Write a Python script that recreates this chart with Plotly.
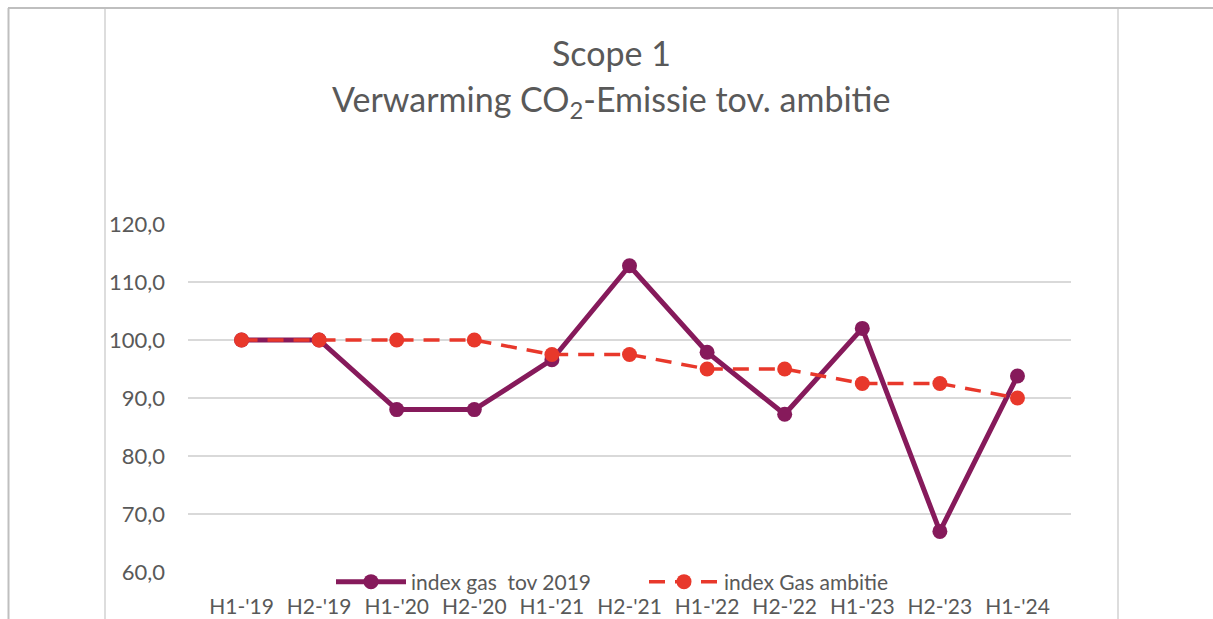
import plotly.graph_objects as go

categories = ["H1-'19", "H2-'19", "H1-'20", "H2-'20", "H1-'21", "H2-'21",
              "H1-'22", "H2-'22", "H1-'23", "H2-'23", "H1-'24"]
index_gas = [100.0, 100.0, 88.0, 88.0, 96.6, 112.8, 97.9, 87.2, 102.0, 67.0, 93.8]
index_ambitie = [100.0, 100.0, 100.0, 100.0, 97.5, 97.5, 95.0, 95.0, 92.5, 92.5, 90.0]

W, H = 1213, 619
L, R, T, B = 188, 1071, 224, 572
FONT = "Lato"
TXT = "#595959"

def px(x):
    return (x - L) / (R - L)

def py(y):
    return (B - y) / (B - T)

fig = go.Figure()
fig.add_trace(go.Scatter(
    x=categories, y=index_gas, name="index gas  tov 2019",
    mode="lines+markers",
    line=dict(color="#861A5B", width=5),
    marker=dict(color="#861A5B", size=15),
))
fig.add_trace(go.Scatter(
    x=categories, y=index_ambitie, name="index Gas ambitie",
    mode="lines+markers",
    line=dict(color="#E8382B", width=3.5, dash="16px,10px"),
    marker=dict(color="#E8382B", size=15),
))

shapes = [
    dict(type="line", xref="paper", yref="paper", x0=px(8), x1=px(1213), y0=py(8), y1=py(8),
         line=dict(color="#BFBFBF", width=2)),
    dict(type="line", xref="paper", yref="paper", x0=px(8.5), x1=px(8.5), y0=py(8), y1=py(619),
         line=dict(color="#BFBFBF", width=2)),
    dict(type="line", xref="paper", yref="paper", x0=px(105), x1=px(105), y0=py(9), y1=py(619),
         line=dict(color="#DDDDDD", width=2)),
    dict(type="line", xref="paper", yref="paper", x0=px(1118), x1=px(1118), y0=py(9), y1=py(619),
         line=dict(color="#DDDDDD", width=2)),
]

annotations = [
    dict(text="Scope 1", xref="paper", yref="paper", x=px(611.5), y=py(52),
         xanchor="center", yanchor="middle", showarrow=False,
         font=dict(family=FONT, size=34, color=TXT)),
    dict(text="Verwarming CO<sub>2</sub>-Emissie tov. ambitie", xref="paper", yref="paper",
         x=px(611.5), y=py(101), xanchor="center", yanchor="middle", showarrow=False,
         font=dict(family=FONT, size=34, color=TXT)),
]

fig.update_layout(
    width=W, height=H,
    margin=dict(l=L, r=W - R, t=T, b=H - B, pad=0, autoexpand=False),
    paper_bgcolor="white", plot_bgcolor="white",
    separators=",.",
    font=dict(family=FONT, size=21, color=TXT),
    shapes=shapes, annotations=annotations,
    showlegend=True,
    legend=dict(orientation="h", x=px(331), xanchor="left", y=py(582), yanchor="middle",
                font=dict(family=FONT, size=21, color=TXT), bgcolor="rgba(0,0,0,0)",
                itemwidth=70, entrywidth=228, entrywidthmode="pixels", tracegroupgap=0),
    xaxis=dict(showgrid=False, showline=False, zeroline=False, ticks="",
               tickfont=dict(family=FONT, size=21, color=TXT), ticklabelstandoff=20),
    yaxis=dict(range=[60, 120], dtick=10, tickformat=".1f", showgrid=True,
               gridcolor="#D9D9D9", gridwidth=1.5, zeroline=False, showline=False, ticks="",
               tickfont=dict(family=FONT, size=22, color=TXT), ticklabelstandoff=22),
)

fig.write_html("out.html", config={"displayModeBar": False},
               post_script="document.body.style.margin='0';document.body.style.overflow='hidden';")
